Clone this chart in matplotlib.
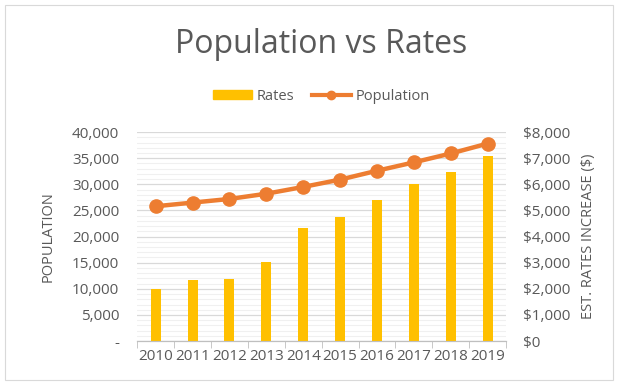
import matplotlib.pyplot as plt
from matplotlib.ticker import FuncFormatter, MultipleLocator
from matplotlib.patches import Rectangle, Patch
from matplotlib.lines import Line2D

years = ['2010', '2011', '2012', '2013', '2014', '2015', '2016', '2017', '2018', '2019']
rates = [2000, 2320, 2390, 3030, 4310, 4760, 5400, 6020, 6470, 7090]
population = [25800, 26500, 27200, 28200, 29500, 30900, 32600, 34200, 35900, 37800]

grey = '#595959'
plt.rcParams['font.family'] = ['Open Sans', 'DejaVu Sans']

fig = plt.figure(figsize=(6.18, 3.85), dpi=100)
fig.patches.append(Rectangle((0.008, 0.013), 0.984, 0.974, transform=fig.transFigure,
                             fill=False, edgecolor='#D9D9D9', linewidth=0.8))

ax = fig.add_axes([0.222, 0.114, 0.597, 0.543])
ax2 = ax.twinx()
# line axis sits on top, bars + grid below
ax.set_zorder(ax2.get_zorder() + 1)
ax.patch.set_visible(False)

x = list(range(len(years)))
ax2.bar(x, rates, width=0.27, color='#FFC000', zorder=3)
ax2.set_ylim(0, 8000)
ax2.yaxis.set_major_locator(MultipleLocator(1000))
ax2.yaxis.set_minor_locator(MultipleLocator(200))
ax2.grid(which='major', color='#D9D9D9', linewidth=0.9, zorder=0)
ax2.grid(which='minor', color='#F0F0F0', linewidth=0.8, zorder=0)
ax2.set_axisbelow(True)
ax2.yaxis.set_major_formatter(FuncFormatter(lambda v, p: '${:,.0f}'.format(v)))
ax2.set_ylabel('EST. RATES INCREASE ($)', color=grey, fontsize=10.5, labelpad=8)

ax.plot(x, population, color='#ED7D31', linewidth=3.2, marker='o', markersize=9.5, zorder=5)
ax.set_ylim(0, 40000)
ax.yaxis.set_major_locator(MultipleLocator(5000))
ax.yaxis.set_major_formatter(FuncFormatter(lambda v, p: '-' if v == 0 else '{:,.0f}'.format(v)))
ax.set_ylabel('POPULATION', color=grey, fontsize=10.5, labelpad=12)

ax.set_xlim(-0.5, len(years) - 0.5)
ax.set_xticks(x)
ax.set_xticklabels(years)
ax.set_xticks([i - 0.5 for i in range(len(years) + 1)], minor=True)
ax.tick_params(axis='x', which='major', length=0, pad=6)
ax.tick_params(axis='x', which='minor', length=5, color='#BFBFBF')

for a in (ax, ax2):
    for s in ['top', 'left', 'right']:
        a.spines[s].set_visible(False)
    a.spines['bottom'].set_color('#BFBFBF')
    a.tick_params(axis='y', which='both', length=0, labelsize=11, labelcolor=grey)
    a.tick_params(axis='x', labelsize=11, labelcolor=grey)
ax.tick_params(axis='y', pad=13)
ax2.tick_params(axis='y', pad=12)

fig.text(0.52, 0.885, 'Population vs Rates', ha='center', va='center', fontsize=23, color=grey)

handles = [Patch(color='#FFC000'),
           Line2D([], [], color='#ED7D31', linewidth=3, marker='o', markersize=6)]
fig.legend(handles, ['Rates', 'Population'], loc='center', bbox_to_anchor=(0.52, 0.75),
           ncol=2, frameon=False, fontsize=10.5, labelcolor=grey, handlelength=2.7,
           handleheight=0.6, columnspacing=1.2, handletextpad=0.3)

fig.savefig('out.png', dpi=100)
